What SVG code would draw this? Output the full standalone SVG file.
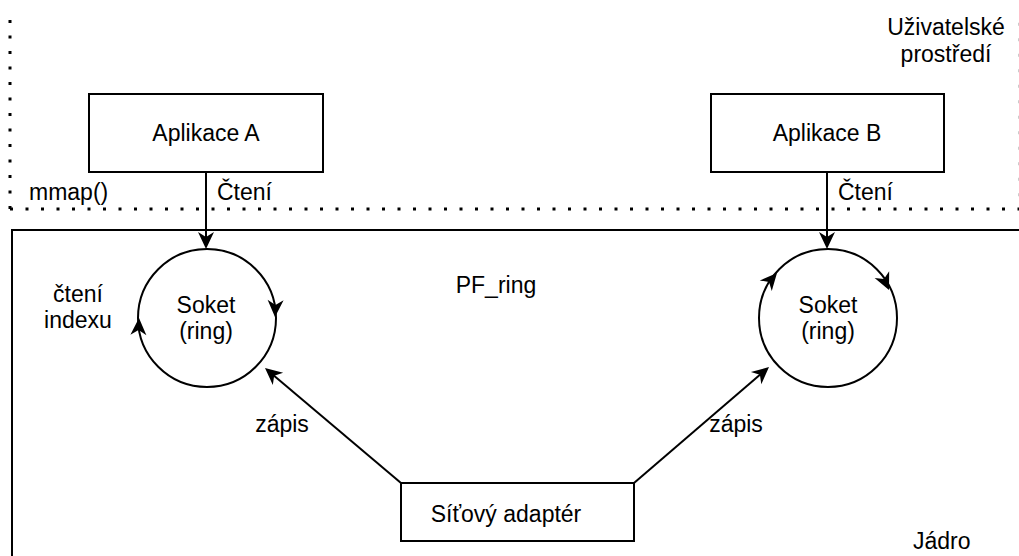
<svg xmlns="http://www.w3.org/2000/svg" width="1019" height="556" viewBox="0 0 1019 556">
<style>
.box{fill:#fff;stroke:#000;stroke-width:2}
.ln{fill:none;stroke:#000;stroke-width:2}
.dot{fill:none;stroke:#000;stroke-width:3;stroke-dasharray:3 12.5}
text{font-family:"Liberation Sans",Arial,sans-serif;font-size:23px;fill:#000}
.c{text-anchor:middle}
</style>
<defs>
<path id="ah" d="M0,0 L-17,-8 L-12,0 L-17,8 Z" fill="#000"/>
</defs>
<rect width="1019" height="556" fill="#fff"/>
<g id="user-space">
<path class="dot" d="M10,209 V14"/>
<path class="dot" d="M10,209 H1020.3 V14"/>
<text class="c" x="946" y="35">Uživatelské</text>
<text class="c" x="946" y="62">prostředí</text>
<text x="29" y="200">mmap()</text>
</g>
<g id="kernel">
<path class="ln" d="M12,560 V230 H1025"/>
<text x="913" y="549">Jádro</text>
<text class="c" x="496" y="293">PF_ring</text>
<text class="c" x="78" y="302">čtení</text>
<text class="c" x="78" y="328">indexu</text>
</g>
<g id="app-a">
<rect class="box" x="89" y="94" width="234" height="78"/>
<text class="c" x="206" y="141">Aplikace A</text>
</g>
<g id="app-b">
<rect class="box" x="711" y="94" width="233" height="78"/>
<text class="c" x="827" y="141">Aplikace B</text>
</g>
<g id="socket-a">
<circle class="ln" cx="207" cy="318" r="69"/>
<use href="#ah" transform="translate(275,317) rotate(92)"/>
<use href="#ah" transform="translate(139,318) rotate(-88)"/>
<text class="c" x="206" y="313">Soket</text>
<text class="c" x="206" y="339">(ring)</text>
</g>
<g id="socket-b">
<circle class="ln" cx="828" cy="318" r="69"/>
<use href="#ah" transform="translate(777,273) rotate(-48.6)"/>
<use href="#ah" transform="translate(889,290) rotate(65.3)"/>
<text class="c" x="828" y="313">Soket</text>
<text class="c" x="828" y="339">(ring)</text>
</g>
<g id="adapter">
<rect class="box" x="401" y="483" width="233" height="58"/>
<text class="c" x="506" y="522">Síťový adaptér</text>
</g>
<g id="connectors">
<path class="ln" d="M206,172 V239"/>
<use href="#ah" transform="translate(206,249) rotate(90)"/>
<text x="217" y="200">Čtení</text>
<path class="ln" d="M827,172 V239"/>
<use href="#ah" transform="translate(827,249) rotate(90)"/>
<text x="838" y="200">Čtení</text>
<path class="ln" d="M401,483 L272.6,374.5"/>
<use href="#ah" transform="translate(265,368) rotate(220.2)"/>
<text class="c" x="282" y="432">zápis</text>
<path class="ln" d="M634,483 L761.4,373.5"/>
<use href="#ah" transform="translate(769,367) rotate(-40.7)"/>
<text class="c" x="736" y="432">zápis</text>
</g>
</svg>
